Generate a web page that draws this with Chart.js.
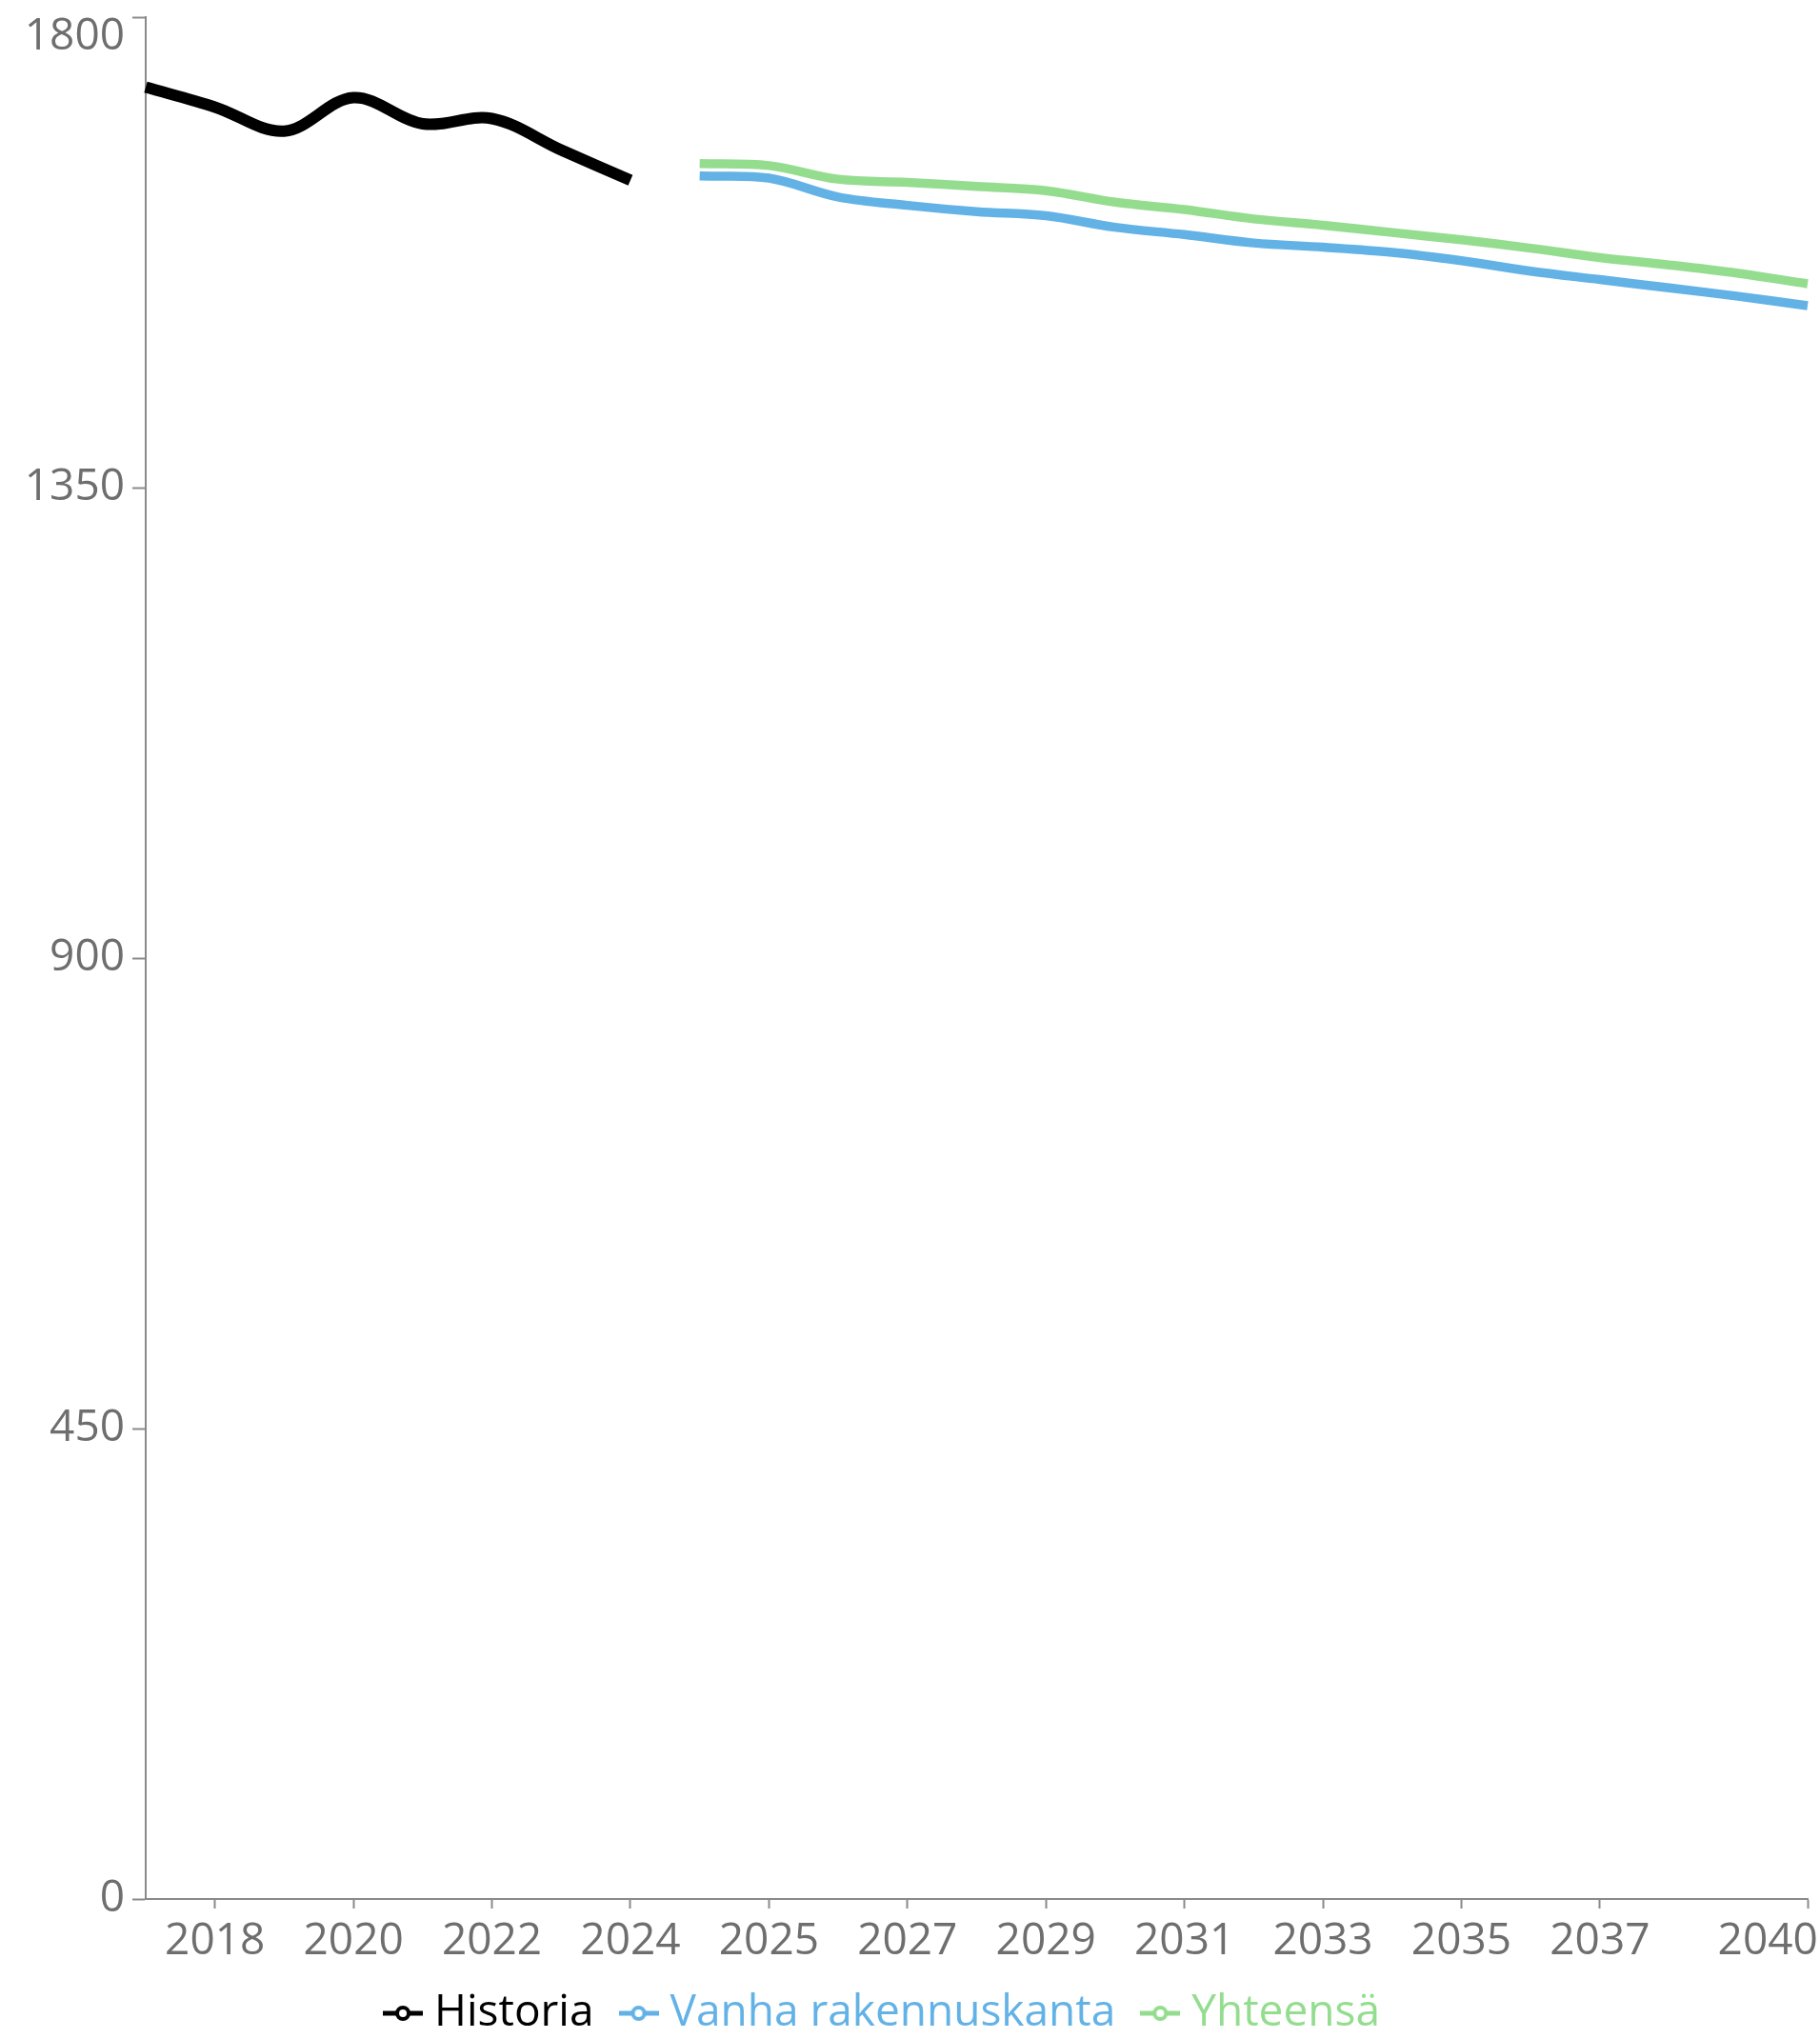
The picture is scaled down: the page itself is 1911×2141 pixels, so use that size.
<!DOCTYPE html>
<html><head><meta charset="utf-8">
<script src="https://cdn.jsdelivr.net/npm/chart.js@4"></script>
<style>html,body{margin:0;padding:0;background:#fff}canvas{display:block}</style>
</head><body>
<canvas id="c" width="1911" height="2141"></canvas>
<script>
// Categories (index 8 = start of the forecast, a second 2024 slot)
const years = ['2017','2018','2019','2020','2021','2022','2023','2024','2024',
  '2025','2026','2027','2028','2029','2030','2031','2032','2033','2034','2035',
  '2036','2037','2038','2039','2040'];
// Historia 2017–2024
const historia = [1733, 1714, 1691, 1723, 1698, 1703, 1673, 1644];
// Forecast (from the second 2024 slot to 2040)
const vanhaRakennuskanta = [1648, 1646, 1628, 1620, 1614, 1610, 1599, 1592, 1584,
  1580, 1575, 1567, 1557, 1549, 1541, 1533, 1524];
const yhteensa = [1660, 1658, 1645, 1642, 1638, 1634, 1623, 1616, 1607,
  1601, 1594, 1587, 1579, 1570, 1563, 1555, 1545];
const yTicks = [0, 450, 900, 1350, 1800];
const seriesNames = ['Historia', 'Vanha rakennuskanta', 'Yhteensä'];
const seriesColors = ['#000000', '#63b2e6', '#94dd8f'];

const histData = historia.concat(new Array(years.length - historia.length).fill(null));
const padF = new Array(years.length - vanhaRakennuskanta.length).fill(null);
const vanhaData = padF.concat(vanhaRakennuskanta);
const yhtData = padF.concat(yhteensa);

function legendIcon(color) {
  const c = document.createElement('canvas');
  c.width = 42; c.height = 20;
  const g = c.getContext('2d');
  g.strokeStyle = color; g.lineWidth = 5;
  g.beginPath(); g.moveTo(0, 10); g.lineTo(42, 10); g.stroke();
  g.beginPath(); g.arc(21, 10, 6, 0, Math.PI * 2);
  g.fillStyle = '#fff'; g.fill(); g.lineWidth = 4; g.stroke();
  return c;
}
const icons = seriesColors.map(legendIcon);

const axisColor = '#8a8a8a';
const tickColor = '#6e6e6e';

const legendShift = {
  id: 'legendShift',
  afterLayout(chart) {
    chart.legend.left -= 18; chart.legend.right -= 18;
    chart.legend.top -= 2; chart.legend.bottom -= 2;
  }
};

new Chart(document.getElementById('c'), {
  type: 'line',
  plugins: [legendShift],
  data: {
    labels: years,
    datasets: [
      {label: seriesNames[0], data: histData, borderColor: seriesColors[0], borderWidth: 12, pointRadius: 0, tension: 0.35, fill: false},
      {label: seriesNames[1], data: vanhaData, borderColor: seriesColors[1], borderWidth: 9.5, pointRadius: 0, tension: 0.35, fill: false},
      {label: seriesNames[2], data: yhtData, borderColor: seriesColors[2], borderWidth: 9.5, pointRadius: 0, tension: 0.35, fill: false}
    ]
  },
  options: {
    responsive: false,
    animation: false,
    devicePixelRatio: 1,
    layout: {padding: {top: 18, right: 13, left: 0, bottom: 0}},
    plugins: {
      tooltip: {enabled: false},
      legend: {
        position: 'bottom',
        maxHeight: 85,
        labels: {
          usePointStyle: true,
          pointStyleWidth: 20,
          padding: 37,
          font: {family: 'Open Sans', size: 46},
          generateLabels(chart) {
            return chart.data.datasets.map((ds, i) => ({
              text: ds.label, fillStyle: '#fff', strokeStyle: ds.borderColor,
              lineWidth: 0, pointStyle: icons[i], fontColor: ds.borderColor,
              hidden: false, datasetIndex: i
            }));
          }
        }
      }
    },
    scales: {
      x: {
        type: 'category',
        offset: false,
        afterFit(s) { s.height = 62; s.paddingLeft = 0; s.paddingRight = 0; },
        border: {display: true, color: axisColor, width: 2},
        grid: {display: true, drawOnChartArea: false, drawTicks: true, tickLength: 10, tickColor: axisColor, tickWidth: 2, color: axisColor},
        ticks: {
          autoSkip: false, maxRotation: 0, minRotation: 0, padding: 7,
          color: tickColor, font: {family: 'Open Sans', size: 46},
          callback: function(value, index, ticks) {
            const lab = this.getLabelForValue(value);
            if (index === ticks.length - 1) return lab + '\u00a0'.repeat(7);
            if (index % 2 === 1 && index <= 21) return lab;
            return null;
          }
        }
      },
      y: {
        min: 0, max: 1800,
        afterBuildTicks(s) { s.ticks = yTicks.map(v => ({value: v})); },
        afterFit(s) { s.width = 153; s.paddingTop = 0; s.paddingBottom = 0; },
        border: {display: true, color: axisColor, width: 2},
        grid: {display: true, drawOnChartArea: false, drawTicks: true, tickLength: 14, tickColor: axisColor, tickWidth: 2, color: axisColor},
        ticks: {
          padding: 8, color: tickColor,
          font: (ctx) => ({family: 'Open Sans', size: 46, lineHeight: (ctx.tick && ctx.tick.value === 1800) ? 0.92 : 1.2}),
          callback: (v) => v === 1800 ? ['', String(v)] : String(v)
        }
      }
    }
  }
});
</script>
</body></html>
